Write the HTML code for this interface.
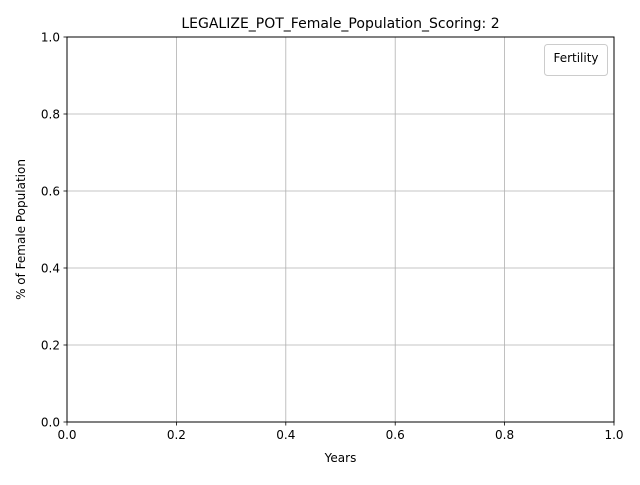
<!DOCTYPE html>
<html><head><meta charset="utf-8"><style>
body{margin:0;background:#fff;}
svg text{font-family:"DejaVu Sans","Liberation Sans",sans-serif;fill:#000;}
</style></head><body>
<svg width="640" height="480" xmlns="http://www.w3.org/2000/svg">
<rect width="640" height="480" fill="#fff"/>
<g id="grid"></g>
<rect x="67" y="37" width="547" height="385" fill="none" stroke="#000" stroke-width="1"/>
<g id="axes"></g>
<text x="340.5" y="28" font-size="14" text-anchor="middle">LEGALIZE_POT_Female_Population_Scoring: 2</text>
<text x="340.5" y="462" font-size="12" text-anchor="middle">Years</text>
<text transform="translate(25,229.5) rotate(-90)" font-size="12" text-anchor="middle">% of Female Population</text>
<g>
<rect x="544.5" y="44.5" width="63" height="31" rx="3" fill="#fff" stroke="#ccc"/>
<text x="576" y="62" font-size="12" text-anchor="middle">Fertility</text>
</g>
</svg>
<script>
const xTicks=[0.0,0.2,0.4,0.6,0.8,1.0];
const yTicks=[0.0,0.2,0.4,0.6,0.8,1.0];
const xTickLabels=["0.0","0.2","0.4","0.6","0.8","1.0"];
const yTickLabels=["0.0","0.2","0.4","0.6","0.8","1.0"];
const L=67,R=614,T=37,B=422;
function xs(v){return L+(v-0)/(1-0)*(R-L);}
function ys(v){return B-(v-0)/(1-0)*(B-T);}
const NS="http://www.w3.org/2000/svg";
const grid=document.getElementById('grid'),axes=document.getElementById('axes');
function mk(tag,attrs,parent){const e=document.createElementNS(NS,tag);for(const k in attrs)e.setAttribute(k,attrs[k]);parent.appendChild(e);return e;}
xTicks.forEach((v,i)=>{
  const x=xs(v);
  const g=mk('line',{x1:x,x2:x,y1:T,y2:B,stroke:'#b0b0b0','stroke-width':0.8},grid);
  
  
  const t=mk('line',{x1:x,x2:x,y1:B,y2:B+3.5,stroke:'#000','stroke-width':0.8},axes);
  
  
  const l=mk('text',{x:x,y:B+17,'font-size':12,'text-anchor':'middle'},axes);
  l.textContent=xTickLabels[i];
  
  
});
yTicks.forEach((v,i)=>{
  const y=ys(v);
  const g=mk('line',{x1:L,x2:R,y1:y,y2:y,stroke:'#b0b0b0','stroke-width':0.8},grid);
  
  
  const t=mk('line',{x1:L-3.5,x2:L,y1:y,y2:y,stroke:'#000','stroke-width':0.8},axes);
  
  
  const l=mk('text',{x:L-7,y:y+4.5,'font-size':12,'text-anchor':'end'},axes);
  l.textContent=yTickLabels[i];
  
  
});
</script>
</body></html>
